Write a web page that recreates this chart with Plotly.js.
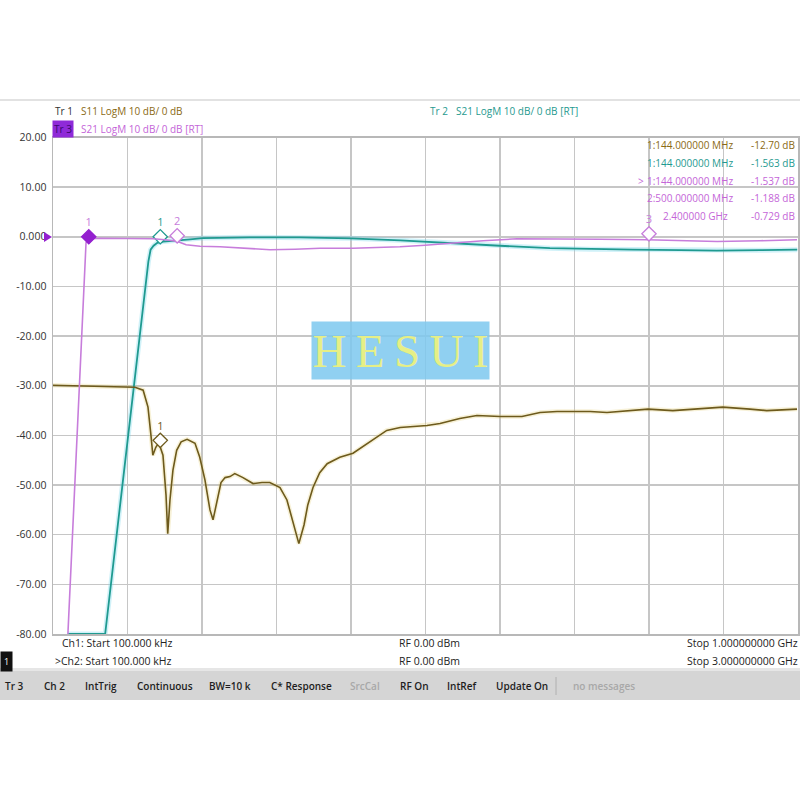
<!DOCTYPE html>
<html>
<head>
<meta charset="utf-8">
<script src="https://cdn.plot.ly/plotly-3.0.1.min.js"></script>
<style>html,body{margin:0;padding:0;background:#fff;}#chart{width:800px;height:800px;}</style>
</head>
<body>
<div id="chart"></div>
<script>
// Tr1 S11 (Ch1, 100 kHz - 1 GHz), frequency in MHz, display dB
const s11Freq = [0, 36, 76.5, 110, 121, 127.5, 131.5, 134, 138, 142, 147.6, 151.7, 154, 157, 161, 166, 172, 180, 190.6, 197, 204, 210.7, 214.8, 220, 225.5, 231, 237.6, 244, 255, 268.5, 280.5, 291, 304.7, 314, 322, 330, 337, 342, 349, 358, 368, 385, 402.7, 419, 432, 448, 466, 502, 519.5, 546, 569, 600, 629.5, 653.7, 676.5, 721, 743.6, 774.5, 798.7, 832, 878, 899, 935.6, 958, 998.7];
const s11Db   = [-29.9, -30.0, -30.1, -30.3, -30.9, -34.3, -40, -44, -42.4, -41.5, -44, -52, -59.8, -53, -47, -43, -41.3, -40.8, -41.6, -44.4, -49, -55, -57, -53, -49.5, -48.5, -48.3, -47.7, -48.5, -49.7, -49.5, -49.5, -50.5, -53, -57.5, -61.8, -58, -54, -50.5, -47.5, -45.7, -44.4, -43.6, -42, -40.6, -39, -38.4, -38, -37.6, -36.6, -36, -36.2, -36.2, -35.4, -35.2, -35.2, -35.4, -35, -34.7, -35, -34.5, -34.3, -34.7, -35, -34.7];

// Tr2 S21 (Ch1, 100 kHz - 1 GHz)
const tr2Freq = [20, 70, 128, 131, 135, 140, 148, 164, 184, 201, 264, 331, 399, 466, 533, 600, 667, 720, 778, 842, 891, 950, 999];
const tr2Db   = [-80, -80, -5, -2.6, -1.8, -1.2, -0.95, -0.8, -0.5, -0.25, -0.1, -0.1, -0.3, -0.7, -1.3, -1.8, -2.3, -2.5, -2.6, -2.7, -2.8, -2.7, -2.6];

// Tr3 S21 (Ch2, 100 kHz - 3 GHz)
const tr3Freq = [60, 133, 141, 157, 189, 310, 403, 451, 499, 536, 592, 672.5, 773, 874, 975, 1075, 1208, 1297, 1397, 1498, 1599, 1732, 1869, 2042, 2203, 2392, 2525, 2674, 2847, 2996];
const tr3Db   = [-80, -1.2, -0.6, -0.4, -0.3, -0.3, -0.4, -0.6, -0.9, -1.6, -1.9, -2.0, -2.3, -2.6, -2.5, -2.3, -2.3, -2.2, -2.0, -1.7, -1.3, -0.8, -0.4, -0.4, -0.5, -0.6, -0.8, -0.95, -0.8, -0.6];

// Markers
const mkS11Freq = [144], mkS11Db = [-41], mkS11Lbl = ["1"];
const mkTr2Freq = [144], mkTr2Db = [0], mkTr2Lbl = ["1"];
const mkTr3Freq = [144, 500, 2400], mkTr3Db = [0, 0.2, 0.6], mkTr3Lbl = ["1", "2", "3"];

// Axis ticks
const yTickVals = [20, 10, 0, -10, -20, -30, -40, -50, -60, -70, -80];
const yTickText = ["20.00", "10.00", "0.000", "-10.00", "-20.00", "-30.00", "-40.00", "-50.00", "-60.00", "-70.00", "-80.00"];

// Marker readout table (row 5's "3" is the marker label drawn over it)
const tblFreq = ["1:144.000000 MHz", "1:144.000000 MHz", "1:144.000000 MHz", "2:500.000000 MHz", "2.400000 GHz"];
const tblVal  = ["-12.70 dB", "-1.563 dB", "-1.537 dB", "-1.188 dB", "-0.729 dB"];

// Status bar
const statusItems = ["Tr 3", "Ch 2", "IntTrig", "Continuous", "BW=10 k", "C* Response", "SrcCal", "RF On", "IntRef", "Update On", "no messages"];

// ---- Styling ----
const C_S11 = "#6d5a1c", C_TR2 = "#1f9a90", C_TR3 = "#c77ddb", C_TR3D = "#9420cf";
const FONT = "Open Sans, Noto Sans, sans-serif";
const W = 800, H = 800;
const px = x => x / W, py = y => 1 - y / H;

const traces = [
  {x: s11Freq, y: s11Db, xaxis: "x", yaxis: "y", mode: "lines", line: {color: "rgba(225,205,110,0.28)", width: 4.5}, hoverinfo: "skip"},
  {x: tr2Freq, y: tr2Db, xaxis: "x", yaxis: "y", mode: "lines", line: {color: "rgba(120,215,235,0.35)", width: 5}, hoverinfo: "skip"},
  {x: tr3Freq, y: tr3Db, xaxis: "x2", yaxis: "y", mode: "lines", line: {color: C_TR3, width: 1.6}},
  {x: tr2Freq, y: tr2Db, xaxis: "x", yaxis: "y", mode: "lines", line: {color: C_TR2, width: 1.8}},
  {x: s11Freq, y: s11Db, xaxis: "x", yaxis: "y", mode: "lines", line: {color: C_S11, width: 1.6}},
  {x: mkS11Freq, y: mkS11Db, text: mkS11Lbl, xaxis: "x", yaxis: "y", mode: "markers+text", textposition: "top center",
   textfont: {family: FONT, size: 11, color: C_S11}, marker: {symbol: "diamond", size: 11, color: "#fff", line: {color: C_S11, width: 1.3}}},
  {x: mkTr2Freq, y: mkTr2Db, text: mkTr2Lbl, xaxis: "x", yaxis: "y", mode: "markers+text", textposition: "top center",
   textfont: {family: FONT, size: 11, color: C_TR2}, marker: {symbol: "diamond", size: 11, color: "#fff", line: {color: C_TR2, width: 1.3}}},
  {x: mkTr3Freq, y: mkTr3Db, text: mkTr3Lbl, xaxis: "x2", yaxis: "y", mode: "markers+text", textposition: "top center",
   textfont: {family: FONT, size: 11, color: C_TR3}, marker: {symbol: "diamond", size: 11, color: [C_TR3D, "#fff", "#fff"], line: {color: [C_TR3D, C_TR3, C_TR3], width: 1.3}}}
];

const ann = [];
function txt(t, x, y, color, opts) {
  ann.push(Object.assign({text: t, x: px(x), y: py(y), xref: "paper", yref: "paper", showarrow: false,
    xanchor: "left", yanchor: "middle", font: {family: FONT, size: 10, color: color}}, opts || {}));
}
// Header
txt("Tr 1", 53, 111, "#333");
txt("S11 LogM 10 dB/ 0 dB", 79, 111, "#8a6a14");
txt("Tr 2", 428, 111, C_TR2);
txt("S21 LogM 10 dB/ 0 dB [RT]", 454, 111, C_TR2);
txt("Tr 3", 52, 129, "#3c0870", {bgcolor: "#8f2ad8", borderpad: 1});
txt("S21 LogM 10 dB/ 0 dB [RT]", 79, 129, "#c465d8");
// Marker table
const tblColors = ["#8a6a14", C_TR2, "#c465d8", "#c465d8", "#c465d8"];
const tblY = [145, 163, 181, 198, 216];
const tblX = [645, 645, 645, 645, 661];
for (let i = 0; i < tblFreq.length; i++) {
  txt(tblFreq[i], tblX[i], tblY[i], tblColors[i]);
  txt(tblVal[i], 797, tblY[i], tblColors[i], {xanchor: "right"});
}
txt(">", 636, 181, "#c465d8");
// Footer
const FT = {family: FONT, size: 10.5, color: "#222"};
txt("Ch1: Start 100.000 kHz", 60, 643, "#222", {font: FT});
txt(">Ch2: Start 100.000 kHz", 53, 661, "#222", {font: FT});
txt("RF 0.00 dBm", 397, 643, "#222", {font: FT});
txt("RF 0.00 dBm", 397, 661, "#222", {font: FT});
txt("Stop 1.000000000 GHz", 800, 643, "#222", {xanchor: "right", font: FT});
txt("Stop 3.000000000 GHz", 800, 661, "#222", {xanchor: "right", font: FT});
txt("1", 0, 661, "#fff", {bgcolor: "#111", borderpad: 3, font: {family: FONT, size: 9, color: "#fff"}});
// Status bar
const statusX = [3, 42, 83, 135, 207, 269, 348, 398, 445, 494, 571];
for (let i = 0; i < statusItems.length; i++) {
  const grey = (statusItems[i] === "SrcCal" || statusItems[i] === "no messages");
  txt(statusItems[i], statusX[i], 686, grey ? "#a8a8a8" : "#1e1e1e",
      {font: {family: FONT, size: 10, color: grey ? "#a8a8a8" : "#1e1e1e", weight: 600}});
}
// Watermark
ann.push({text: "H\u2009E\u2009S\u2009U\u2009I", x: px(400.5), y: py(350.5), xref: "paper", yref: "paper", showarrow: false,
  xanchor: "center", yanchor: "middle", width: 175, height: 55, bgcolor: "rgba(125,200,238,0.85)",
  font: {family: "Liberation Serif, DejaVu Serif, serif", size: 47, color: "#e6ef86"}});

const shapes = [
  {type: "line", xref: "paper", yref: "paper", x0: 0, x1: 1, y0: py(100), y1: py(100), line: {color: "#e2e2e2", width: 2}},
  {type: "rect", xref: "paper", yref: "paper", x0: 0, x1: 1, y0: py(700), y1: py(671), fillcolor: "#d5d5d5", line: {width: 0}, layer: "below"},
  {type: "rect", xref: "paper", yref: "paper", x0: 0, x1: 1, y0: py(671), y1: py(668), fillcolor: "#e6e6e6", line: {width: 0}, layer: "below"},
  {type: "line", xref: "paper", yref: "paper", x0: px(556), x1: px(556), y0: py(677), y1: py(695), line: {color: "#b0b0b0", width: 1}},
  {type: "path", xref: "paper", yref: "paper", path: `M ${px(44)},${py(232)} L ${px(44)},${py(242)} L ${px(52)},${py(237)} Z`, fillcolor: C_TR3D, line: {width: 0}}
];

const layout = {
  width: W, height: H,
  margin: {l: 0, r: 0, t: 0, b: 0},
  paper_bgcolor: "#fff", plot_bgcolor: "#fff",
  showlegend: false,
  xaxis: {domain: [53 / W, 798 / W], range: [0, 1000], dtick: 100, tick0: 0, showticklabels: false, ticks: "",
          showgrid: true, gridcolor: "#c6c6c6", gridwidth: 1.5, zeroline: false, showline: true, linecolor: "#b8b8b8", linewidth: 1.5, mirror: true, fixedrange: true},
  xaxis2: {domain: [53 / W, 798 / W], range: [0, 3000], overlaying: "x", anchor: "y", visible: false, fixedrange: true},
  yaxis: {domain: [1 - 634 / H, 1 - 137.5 / H], range: [-80, 20], tickvals: yTickVals, ticktext: yTickText,
          ticks: "outside", ticklen: 3, tickcolor: "rgba(0,0,0,0)", tickfont: {family: FONT, size: 10.5, color: "#333"},
          showgrid: true, gridcolor: "#c6c6c6", gridwidth: 1.5, zeroline: false, showline: true, linecolor: "#b8b8b8", linewidth: 1.5, mirror: true, fixedrange: true},
  annotations: ann,
  shapes: shapes
};

Plotly.newPlot("chart", traces, layout, {displayModeBar: false, staticPlot: true});
</script>
</body>
</html>
